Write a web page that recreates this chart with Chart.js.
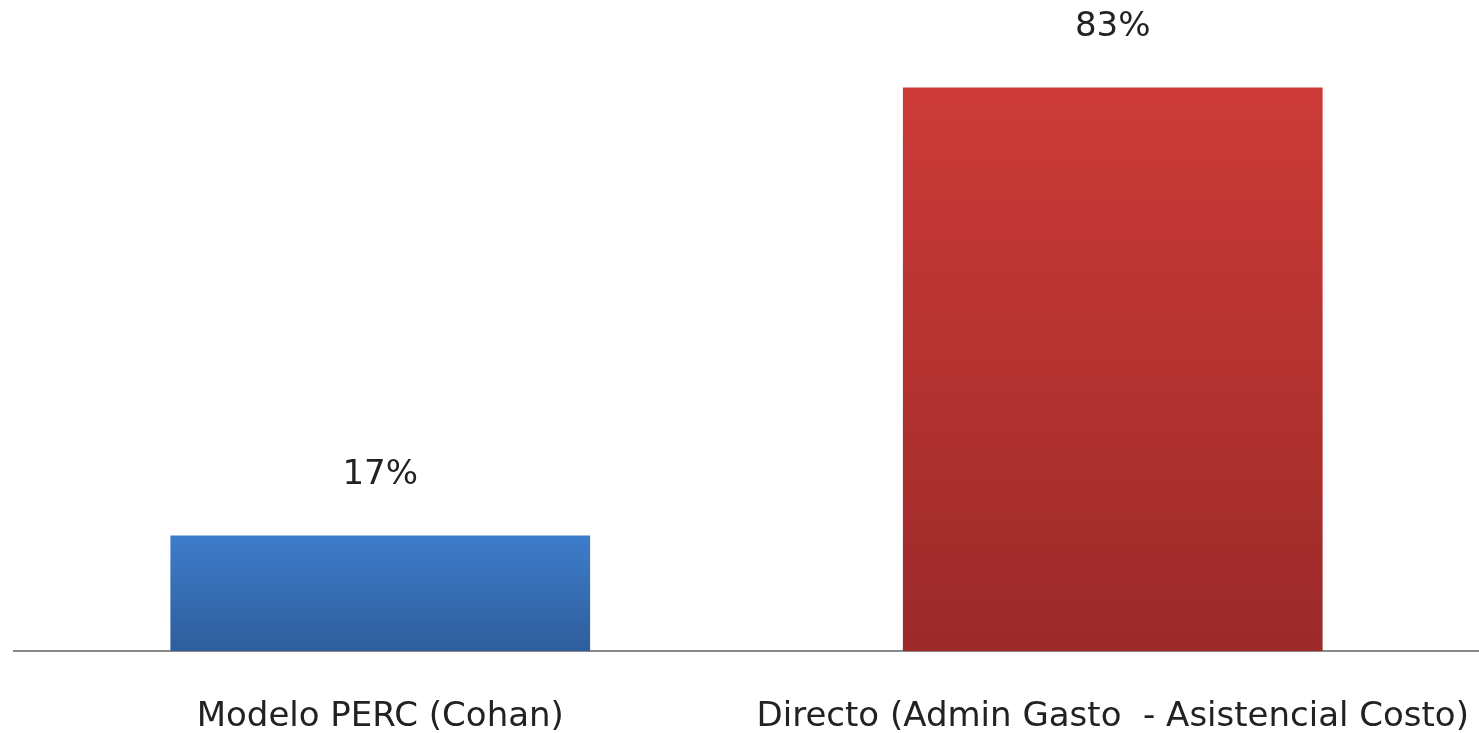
<!DOCTYPE html>
<html>
<head>
<meta charset="utf-8">
<script src="https://cdn.jsdelivr.net/npm/chart.js@4"></script>
<style>
  html, body { margin: 0; padding: 0; background: #fff; }
  #wrap { width: 1479px; height: 733px; }
</style>
</head>
<body>
<div id="wrap"><canvas id="barChart"></canvas></div>
<script>
const categories = ['Modelo PERC (Cohan)', 'Directo (Admin Gasto  - Asistencial Costo)'];
const values = [17, 83];
const valueLabels = ['17%', '83%'];
const topColors = ['#3e7dcb', '#cd3b38'];
const bottomColors = ['#2e5d9c', '#9b2a29'];

const FONT = '"DejaVu Sans", sans-serif';

// draws "17%" / "83%" above the bars
const valueLabelPlugin = {
    id: 'valueLabels',
    afterDatasetsDraw(chart) {
        const ctx = chart.ctx;
        const meta = chart.getDatasetMeta(0);
        ctx.save();
        ctx.font = '34px ' + FONT;
        ctx.fillStyle = '#222';
        ctx.textAlign = 'center';
        ctx.textBaseline = 'middle';
        meta.data.forEach((bar, i) => {
            ctx.fillText(valueLabels[i], bar.x, bar.y - 60);
        });
        ctx.restore();
    }
};

const ctx = document.getElementById('barChart').getContext('2d');
new Chart(ctx, {
    type: 'bar',
    data: {
        labels: categories,
        datasets: [{
            data: values,
            backgroundColor: function (context) {
                const chart = context.chart;
                const i = context.dataIndex;
                if (!chart.chartArea) return topColors[i];
                const y = chart.scales.y;
                const g = chart.ctx.createLinearGradient(0, y.getPixelForValue(values[i]), 0, y.getPixelForValue(0));
                g.addColorStop(0, topColors[i]);
                g.addColorStop(1, bottomColors[i]);
                return g;
            },
            borderWidth: 0,
            categoryPercentage: 1,
            barPercentage: 0.573
        }]
    },
    options: {
        responsive: true,
        maintainAspectRatio: false,
        animation: false,
        layout: { padding: { left: 14, right: 0, top: 40, bottom: 0 } },
        plugins: {
            legend: { display: false },
            tooltip: { enabled: false }
        },
        scales: {
            x: {
                grid: { display: false, drawTicks: false },
                border: { display: true, color: '#8a8a8a', width: 2 },
                ticks: {
                    color: '#222',
                    font: { family: FONT, size: 34 },
                    padding: 46,
                    maxRotation: 0,
                    autoSkip: false
                },
                afterFit(scale) {
                    scale.height = 82;
                    // labels may overflow the sides, keep the full width for bars
                    scale.paddingLeft = 0;
                    scale.paddingRight = 0;
                }
            },
            y: {
                display: false,
                min: 0,
                max: 90
            }
        }
    },
    plugins: [valueLabelPlugin]
});
</script>
</body>
</html>
